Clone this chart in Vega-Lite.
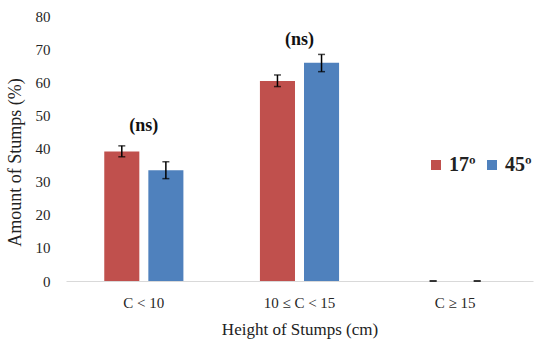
{
  "$schema": "https://vega.github.io/schema/vega-lite/v6.json",
  "autosize": "none",
  "width": 467,
  "height": 265,
  "padding": {"left": 66, "top": 16, "right": 16, "bottom": 65},
  "background": "white",
  "config": {
    "view": {"stroke": null},
    "font": "Liberation Serif",
    "axis": {"grid": false, "labelColor": "#262626", "titleColor": "#222222", "titleFontWeight": "normal", "labelOverlap": false}
  },
  "datasets": {
    "bars": [
      {"cat": "C < 10", "angle": "17º", "value": 39.1, "lo": 37.5, "hi": 40.8},
      {"cat": "C < 10", "angle": "45º", "value": 33.4, "lo": 30.9, "hi": 36.0},
      {"cat": "10 ≤ C < 15", "angle": "17º", "value": 60.4, "lo": 58.7, "hi": 62.2},
      {"cat": "10 ≤ C < 15", "angle": "45º", "value": 65.9, "lo": 63.2, "hi": 68.4},
      {"cat": "C ≥ 15", "angle": "17º", "value": 0, "lo": 0, "hi": 0},
      {"cat": "C ≥ 15", "angle": "45º", "value": 0, "lo": 0, "hi": 0}
    ],
    "notes": [
      {"cat": "C < 10", "label": "(ns)", "pos": 46.8},
      {"cat": "10 ≤ C < 15", "label": "(ns)", "pos": 72.8}
    ]
  },
  "layer": [
    {
      "data": {"name": "bars"},
      "mark": {"type": "bar"},
      "encoding": {
        "x": {"field": "cat", "type": "nominal", "sort": null,
          "scale": {"paddingInner": 0.435, "paddingOuter": 0.2175},
          "axis": {"title": "Height of Stumps (cm)", "labelAngle": 0, "ticks": false, "domainColor": "#d9d9d9", "labelFontSize": 15, "labelPadding": 14, "titleFontSize": 17, "titlePadding": 11}},
        "xOffset": {"field": "angle", "type": "nominal", "scale": {"paddingInner": 0.2045, "paddingOuter": 0.1}},
        "y": {"field": "value", "type": "quantitative",
          "scale": {"domain": [0, 80], "nice": false},
          "axis": {"title": "Amount of Stumps (%)", "tickCount": 8, "labelOverlap": false, "domain": false, "ticks": false, "labelFontSize": 15, "labelPadding": 16, "titleFontSize": 18, "titlePadding": 11, "titleY": 146}},
        "color": {"field": "angle", "type": "nominal",
          "scale": {"domain": ["17º", "45º"], "range": ["#C0504D", "#4F81BD"]},
          "legend": {"title": null, "orient": "none", "legendX": 360, "legendY": 139, "direction": "horizontal", "columns": 2, "symbolType": "square", "symbolSize": 100, "symbolStrokeWidth": 0, "labelFontSize": 20, "labelFontWeight": "bold", "labelColor": "#222222", "columnPadding": 6, "labelOffset": 3}}
      }
    },
    {
      "data": {"name": "bars"},
      "mark": {"type": "rule", "color": "black", "strokeWidth": 1.5},
      "encoding": {
        "x": {"field": "cat", "type": "nominal", "sort": null},
        "xOffset": {"field": "angle", "type": "nominal"},
        "y": {"field": "lo", "type": "quantitative"},
        "y2": {"field": "hi"}
      }
    },
    {
      "data": {"name": "bars"},
      "mark": {"type": "tick", "color": "black", "size": 7, "thickness": 1.5},
      "encoding": {
        "x": {"field": "cat", "type": "nominal", "sort": null},
        "xOffset": {"field": "angle", "type": "nominal"},
        "y": {"field": "lo", "type": "quantitative"}
      }
    },
    {
      "data": {"name": "bars"},
      "mark": {"type": "tick", "color": "black", "size": 7, "thickness": 1.5},
      "encoding": {
        "x": {"field": "cat", "type": "nominal", "sort": null},
        "xOffset": {"field": "angle", "type": "nominal"},
        "y": {"field": "hi", "type": "quantitative"}
      }
    },
    {
      "data": {"name": "notes"},
      "mark": {"type": "text", "fontSize": 18, "fontWeight": "bold", "color": "#111111", "baseline": "middle"},
      "encoding": {
        "x": {"field": "cat", "type": "nominal", "sort": null},
        "y": {"field": "pos", "type": "quantitative"},
        "text": {"field": "label"}
      }
    }
  ]
}
